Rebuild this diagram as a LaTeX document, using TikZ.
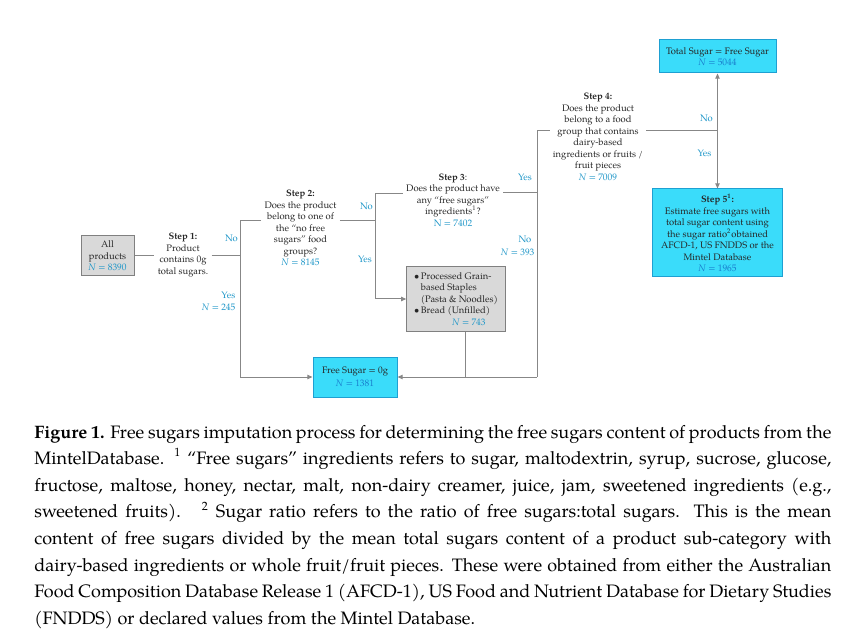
\documentclass[tikz,border=0pt]{standalone}
\usepackage{fontspec}
\setmainfont{texgyrepagella}[Extension=.otf, UprightFont=*-regular, BoldFont=*-bold,
  ItalicFont=*-italic, BoldItalicFont=*-bolditalic]
\usepackage{tikz}
\usetikzlibrary{arrows.meta, positioning}
\definecolor{labcyan}{RGB}{30,150,200}
\definecolor{nblue}{RGB}{25,125,205}
\definecolor{boxcyan}{RGB}{58,220,250}
\definecolor{edgecyan}{RGB}{30,160,210}
\definecolor{boxgray}{RGB}{217,217,217}
\definecolor{edgegray}{RGB}{128,128,128}
\definecolor{linegray}{RGB}{135,135,135}
\newcommand{\Nv}[1]{{\color{nblue}\textit{N} = #1}}
\newcommand{\Nl}[1]{{\color{labcyan}\textit{N} = #1}}

\begin{document}
\begin{tikzpicture}[
  x=0.5pt, y=-0.5pt,
  every node/.style = {font=\fontsize{4.7pt}{5.75pt}\selectfont, text=black!85},
  box/.style      = {draw, line width=0.5pt, align=center, inner sep=1.5pt},
  greybox/.style  = {box, fill=boxgray, draw=edgegray},
  cyanbox/.style  = {box, fill=boxcyan, draw=edgecyan},
  stepnode/.style = {align=center, inner sep=1.5pt},
  lbl/.style      = {text=labcyan, inner sep=0.6pt},
  conn/.style     = {draw=linegray, line width=0.5pt},
  arr/.style      = {conn, -{Triangle[length=2.6pt, width=2.2pt]}},
]
\useasboundingbox (0,0) rectangle (858,631);

% ---------------- boxes and questions ----------------
\node[greybox, minimum width=26.5pt, minimum height=20pt] (all) at (107.5,256)
  {All\\products\\\Nl{8390}};
\node[stepnode] (s1) at (183,255) {\textbf{Step 1:}\\Product\\contains 0g\\total sugars.};

\node[stepnode] (s2) at (300.5,228)
  {\textbf{Step 2:}\\Does the product\\belong to one of\\the “no free\\sugars” food\\groups?\\\Nl{8145}};

\node[stepnode] (s3) at (453,200)
  {\textbf{Step 3}:\\Does the product have\\any “free sugars”\\ingredients\textsuperscript{1}?\\{\color{labcyan}N = 7402}};

\node[stepnode] (s4) at (598,137)
  {\textbf{Step 4:}\\Does the product\\belong to a food\\group that contains\\dairy-based\\ingredients or fruits /\\fruit pieces\\\Nl{7009}};

\node[cyanbox, minimum width=58.5pt, minimum height=16.5pt] (total) at (717.5,56.5)
  {Total Sugar = Free Sugar\\\Nv{5044}};
\node[cyanbox, minimum width=65pt, minimum height=44pt] (s5) at (717.5,233)
  {\textbf{Step 5\textsuperscript{1}:}\\Estimate free sugars with\\total sugar content using\\the sugar ratio\textsuperscript{2}obtained\\AFCD-1, US FNDDS or the\\Mintel Database\\\Nv{1965}};

\node[greybox, minimum width=49.25pt, minimum height=32.5pt, align=left, inner xsep=3pt] (grain) at (456,299)
  {\textbullet\,Processed Grain-\\\phantom{\textbullet\,}based Staples\\\phantom{\textbullet\,}(Pasta \& Noodles)\\\textbullet\,Bread (Unfilled)\\\hspace*{19pt}\Nl{743}};

\node[cyanbox, minimum width=42pt, minimum height=20pt] (free) at (355,377)
  {Free Sugar = 0g\\[1pt]\Nv{1381}};

% ---------------- junctions ----------------
\coordinate (j1)  at (240,256);
\coordinate (j1t) at (240,221);
\coordinate (j1b) at (240,377);
\coordinate (j2)  at (375,221);
\coordinate (j2t) at (375,194);
\coordinate (j2b) at (375,299);
\coordinate (j3)  at (537,193);
\coordinate (j3t) at (537,131);
\coordinate (j3b) at (537,377);
\coordinate (j4)  at (717.5,131);

% ---------------- connectors ----------------
\draw[conn] (all.east) -- (s1.west |- all.east);
\draw[conn] (s1.east |- j1) -- (j1);
\draw[conn] (s2.west |- j1t) -- (j1t) -- (j1b);
\draw[arr]  (j1b) -- (free.west);

\draw[conn] (s2.east |- j2) -- (j2);
\draw[conn] (s3.west |- j2t) -- (j2t) -- (j2b);
\draw[arr]  (j2b) -- (grain.west);

\draw[conn] (s3.east |- j3) -- (j3);
\draw[conn] (s4.west |- j3t) -- (j3t) -- (j3b);
\draw[arr]  (j3b) -- (free.east);
\draw[conn] ([xshift=4.7]grain.south) -- ([xshift=4.7]grain.south |- j3b);

\draw[conn] (s4.east |- j4) -- (j4);
\draw[arr]  (j4) -- (total.south);
\draw[arr]  (j4) -- (s5.north);

% ---------------- branch labels ----------------
\node[lbl] (no1)  at (231.5,238) {No};
\node[lbl, anchor=east] (yes1) at (237,295) {Yes};
\node[lbl, anchor=east] (n245) at (237,307) {\textit{N} = 245};
\node[lbl] (no2)  at (366.5,206) {No};
\node[lbl] (yes2) at (365,259) {Yes};
\node[lbl] (yes3) at (525,177) {Yes};
\node[lbl] (no3)  at (525,239) {No};
\node[lbl, anchor=east] (n393) at (536,252) {\textit{N} = 393};
\node[lbl] (no4)  at (706.5,118) {No};
\node[lbl] (yes4) at (704.5,153) {Yes};

% ---------------- caption ----------------
\node[anchor=base west, inner sep=0pt, text width=398.5pt, align=justify, text=black,
      font=\fontsize{9pt}{13.3pt}\selectfont] (cap) at (34,438)
  {\textbf{Figure 1.} Free sugars imputation process for determining the free sugars content of products from the\linebreak
   MintelDatabase. \textsuperscript{1} “Free sugars” ingredients refers to sugar, maltodextrin, syrup, sucrose, glucose,\linebreak
   fructose, maltose, honey, nectar, malt, non-dairy creamer, juice, jam, sweetened ingredients (e.g.,\linebreak
   sweetened fruits). \ \textsuperscript{2} Sugar ratio refers to the ratio of free sugars:total sugars.  This is the mean\linebreak
   content of free sugars divided by the mean total sugars content of a product sub-category with\linebreak
   dairy-based ingredients or whole fruit/fruit pieces. These were obtained from either the Australian\linebreak
   Food Composition Database Release 1 (AFCD-1), US Food and Nutrient Database for Dietary Studies\linebreak
   (FNDDS) or declared values from the Mintel Database.};
\end{tikzpicture}
\end{document}
